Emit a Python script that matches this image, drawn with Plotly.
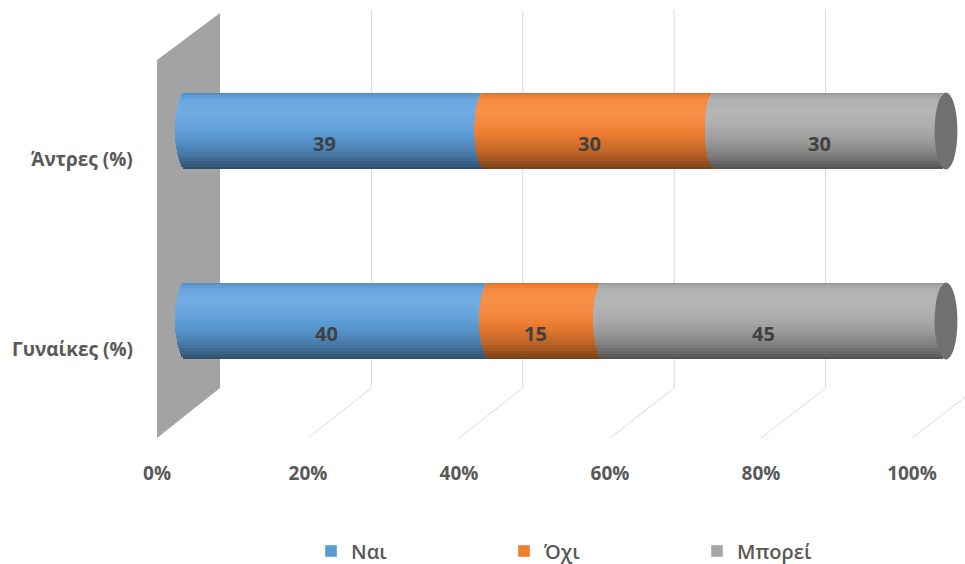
import numpy as np
import plotly.graph_objects as go

# ---------------- data ----------------
categories = ["Γυναίκες (%)", "Άντρες (%)"]
series_names = ["Ναι", "Όχι", "Μπορεί"]
nai = [40, 39]
oxi = [15, 30]
mporei = [45, 30]
tick_vals = [0, 20, 40, 60, 80, 100]
tick_text = ["0%", "20%", "40%", "60%", "80%", "100%"]

series_values = [nai, oxi, mporei]
series_colors = ["#5B9BD5", "#ED7D31", "#A5A5A5"]

# ---------------- geometry / style ----------------
W, H = 965, 564
def px(x):
    return x / W
def py(y):
    return 1 - y / H

BAR_X0, BAR_SCALE = 186, 7.6           # 0% position and px per % of the cylinders
X_RANGE = [-4, 102.3]
FRONT_X0, FRONT_SCALE = 157, 7.55      # floor front edge (tick labels)
BACK_X0, BACK_SCALE = 220, 7.57        # back wall gridlines
FLOOR_FRONT_Y, FLOOR_BACK_Y, WALL_TOP_Y = 438, 388, 10
HALF = 0.2025                          # half cylinder thickness (category units)
CAP = 1.5                              # half width of the elliptic ends (% units)
N_STRIPES = 26
FONT = "Open Sans"

# brightness profile across the cylinder (t=-1 bottom .. t=1 top)
prof_t = [-1.0, -0.85, -0.6, -0.3, 0.0, 0.2, 0.5, 0.8, 0.93, 1.0]
prof_f = [0.48, 0.60, 0.78, 0.92, 1.02, 1.07, 1.11, 1.08, 0.98, 0.88]

def shade(hexc, f):
    rgb = [int(hexc[i:i + 2], 16) for i in (1, 3, 5)]
    if f >= 1:
        rgb = [c + (255 - c) * (f - 1) * 0.9 for c in rgb]
        rgb = [min(255, c * (1 + (f - 1) * 0.4)) for c in rgb]
    else:
        rgb = [c * f for c in rgb]
    return "rgb(%d,%d,%d)" % tuple(int(round(c)) for c in rgb)

# normalise to 100% (100% stacked chart)
totals = [sum(s[i] for s in series_values) for i in range(len(categories))]
shares = [[s[i] / totals[i] * 100 for i in range(len(categories))] for s in series_values]

fig = go.Figure()
dh = 2 * HALF / N_STRIPES
starts = [[0.0] * len(categories)]
for vals in shares:
    starts.append([starts[-1][i] + vals[i] for i in range(len(categories))])

label_ann = []
for si, (name, color, vals, raw) in enumerate(zip(series_names, series_colors, shares, series_values)):
    cum = starts[si]
    for k in range(N_STRIPES):
        b = -HALF + k * dh
        t = (b + dh / 2) / HALF
        e = CAP * np.sqrt(max(0.0, 1 - t * t))
        w = dh * (1.7 if k < N_STRIPES - 1 else 1.0)
        f = float(np.interp(t, prof_t, prof_f))
        fig.add_trace(go.Bar(
            y=categories, x=vals, base=[c - e for c in cum], orientation="h",
            width=w, offset=b,
            marker=dict(color=shade(color, f), line=dict(width=0)),
            showlegend=False, hoverinfo="skip",
        ))
    for i, c in enumerate(categories):
        label_ann.append(dict(x=cum[i] + vals[i] / 2 - CAP, y=c, xref="x", yref="y",
                              text=str(raw[i]), showarrow=False, yshift=-12,
                              font=dict(family=FONT, size=20, color="#404040", weight=700)))

# legend entries
for name, color in zip(series_names, series_colors):
    fig.add_trace(go.Bar(y=[categories[0]], x=[None], orientation="h", name=name,
                         marker=dict(color=color), showlegend=True, hoverinfo="skip"))

# ---------------- shapes: wall, gridlines, end caps ----------------
shapes = []
wall = (f"M {px(FRONT_X0)},{py(60)} L {px(BACK_X0)},{py(13)} "
        f"L {px(BACK_X0)},{py(FLOOR_BACK_Y)} L {px(FRONT_X0)},{py(FLOOR_FRONT_Y)} Z")
shapes.append(dict(type="path", path=wall, xref="paper", yref="paper",
                   fillcolor="#a3a3a3", line=dict(width=0), layer="below"))
for v in tick_vals[1:]:
    fx = FRONT_X0 + FRONT_SCALE * v
    bx = BACK_X0 + BACK_SCALE * v
    shapes.append(dict(type="line", xref="paper", yref="paper",
                       x0=px(fx), y0=py(FLOOR_FRONT_Y), x1=px(bx), y1=py(FLOOR_BACK_Y),
                       line=dict(color="#d9d9d9", width=1), layer="below"))
    shapes.append(dict(type="line", xref="paper", yref="paper",
                       x0=px(bx), y0=py(FLOOR_BACK_Y), x1=px(bx), y1=py(WALL_TOP_Y),
                       line=dict(color="#d9d9d9", width=1), layer="below"))
for i, c in enumerate(categories):
    end = starts[-1][i]
    shapes.append(dict(type="circle", xref="x", yref="y",
                       x0=end - CAP, x1=end + CAP, y0=i - HALF, y1=i + HALF,
                       fillcolor=shade(series_colors[-1], 0.68), line=dict(width=0)))

# category labels
cat_ann = [dict(x=px(135), xref="paper", y=c, yref="y", xanchor="right",
                text=c, showarrow=False, yshift=-28,
                font=dict(family=FONT, size=19, color="#595959", weight=700))
           for c in categories]

fig.update_layout(
    width=W, height=H, margin=dict(l=0, r=0, t=0, b=0, autoexpand=False),
    paper_bgcolor="white", plot_bgcolor="rgba(0,0,0,0)",
    barmode="overlay", bargap=0,
    xaxis=dict(domain=[px(BAR_X0 + BAR_SCALE * X_RANGE[0]),
                       min(1.0, px(BAR_X0 + BAR_SCALE * X_RANGE[1]))],
               range=X_RANGE, visible=False, fixedrange=True),
    xaxis2=dict(domain=[px(FRONT_X0), px(FRONT_X0 + FRONT_SCALE * 100)], range=[0, 100],
                anchor="free", position=py(460),
                tickvals=tick_vals, ticktext=tick_text, showgrid=False, zeroline=False,
                showline=False, ticks="", automargin=False,
                tickfont=dict(family=FONT, size=19, color="#595959", weight=700)),
    yaxis=dict(domain=[py(416), py(36)], range=[-0.5, 1.5], visible=False,
               categoryorder="array", categoryarray=categories),
    shapes=shapes,
    annotations=label_ann + cat_ann,
    legend=dict(orientation="h", x=px(311), y=py(551), yanchor="middle", xanchor="left",
                entrywidth=148, entrywidthmode="pixels", traceorder="normal",
                font=dict(family=FONT, size=20, color="#595959", weight=600),
                bgcolor="rgba(0,0,0,0)"),
    showlegend=True,
)
# invisible trace so that the front (label) axis renders
fig.add_trace(go.Scatter(x=[0, 100], y=[None, None], xaxis="x2", yaxis="y",
                         mode="lines", showlegend=False, hoverinfo="skip"))

fig.write_html("out.html")
